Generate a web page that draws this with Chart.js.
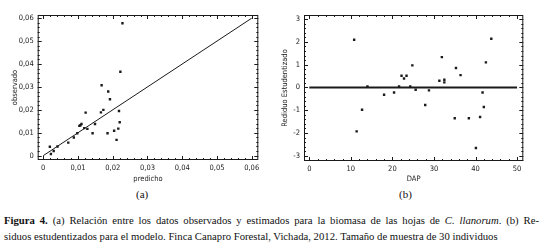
<!DOCTYPE html>
<html>
<head>
<meta charset="utf-8">
<script src="https://cdn.jsdelivr.net/npm/chart.js@4"></script>
<style>
  body { margin: 0; background: #fff; width: 547px; height: 251px; position: relative; overflow: hidden; }
  #wrapA { position: absolute; left: 0; top: 0; width: 270px; height: 185px; }
  #wrapB { position: absolute; left: 270px; top: 0; width: 277px; height: 185px; }
  .sub { position: absolute; top: 188px; font: 11px "Liberation Serif", "Times New Roman", serif; color: #111; }
  .cap { position: absolute; left: 4px; width: 535px; font: 10.7px "Liberation Serif", "Times New Roman", serif; color: #111; white-space: nowrap; }
  #cap1 { top: 214px; text-align: justify; text-align-last: justify; white-space: normal; }
  #cap2 { top: 230px; }
</style>
</head>
<body>
<div id="wrapA"><canvas id="chartA" width="270" height="185"></canvas></div>
<div id="wrapB"><canvas id="chartB" width="277" height="185"></canvas></div>
<div class="sub" style="left:136px">(a)</div>
<div class="sub" style="left:399px">(b)</div>
<div class="cap" id="cap1"><b>Figura 4.</b> (a) Relación entre los datos observados y estimados para la biomasa de las hojas de <i>C. llanorum</i>. (b) Re-</div>
<div class="cap" id="cap2">siduos estudentizados para el modelo. Finca Canapro Forestal, Vichada, 2012. Tamaño de muestra de 30 individuos</div>
<script>
// (a) observado vs predicho
const predicho = [0.0019, 0.0022, 0.0030, 0.0041, 0.0072, 0.0088, 0.0098, 0.0104, 0.0107, 0.0110,
  0.0122, 0.0118, 0.0127, 0.0142, 0.0149, 0.0168, 0.0166, 0.0173, 0.0185, 0.0187,
  0.0192, 0.0204, 0.0211, 0.0216, 0.0218, 0.0220, 0.0222, 0.0228];
const observado = [0.0039, 0.0007, 0.0020, 0.0040, 0.0057, 0.0079, 0.0098, 0.0130, 0.0133, 0.0138,
  0.0188, 0.0120, 0.0117, 0.0098, 0.0138, 0.0307, 0.0189, 0.0200, 0.0098, 0.0280,
  0.0246, 0.0109, 0.0069, 0.0118, 0.0195, 0.0146, 0.0366, 0.0578];
const fitX = [0, 0.06];
const ticksA = [0, 0.01, 0.02, 0.03, 0.04, 0.05, 0.06];

// (b) residuos vs DAP
const dap = [10.8, 11.4, 12.7, 14.0, 18.0, 20.4, 21.6, 22.2, 22.8, 23.4,
  24.3, 24.8, 25.6, 27.9, 28.8, 31.3, 31.9, 32.5, 32.5, 35.0,
  35.3, 36.4, 38.4, 40.1, 41.1, 41.7, 42.0, 42.5, 43.8];
const residuo = [2.09, -1.93, -0.98, 0.04, -0.32, -0.22, 0.04, 0.51, 0.39, 0.51,
  0.04, 0.97, -0.10, -0.77, -0.13, 0.29, 1.33, 0.22, 0.34, -1.35,
  0.85, 0.54, -1.35, -2.66, -1.30, -0.22, -0.86, 1.10, 2.14];
const zeroX = [0, 50];
const ticksBx = [0, 10, 20, 30, 40, 50];
const ticksBy = [-3, -2, -1, 0, 1, 2, 3];

const tickFont = { family: "'Liberation Sans Narrow', 'DejaVu Sans Condensed', sans-serif", size: 7.5 };
const ink = '#1a1a1a';

// frame and inward tick marks on all four sides
const framePlugin = {
  id: 'frame',
  afterDatasetsDraw(chart, args, opts) {
    const { ctx, chartArea: a, scales } = chart;
    ctx.save();
    ctx.strokeStyle = ink;
    ctx.lineWidth = 1;
    ctx.strokeRect(a.left + 0.5, a.top + 0.5, a.right - a.left - 1, a.bottom - a.top - 1);
    const mark = (scale, step, minorN, horiz) => {
      const minor = step / minorN;
      const start = Math.ceil(scale.min / minor) * minor;
      for (let v = start; v <= scale.max + 1e-9; v += minor) {
        const isMajor = Math.abs(v / step - Math.round(v / step)) < 1e-6;
        const len = isMajor ? 4 : 2;
        const p = Math.round(scale.getPixelForValue(v)) + 0.5;
        ctx.beginPath();
        if (horiz) {
          ctx.moveTo(p, a.bottom); ctx.lineTo(p, a.bottom - len);
          ctx.moveTo(p, a.top); ctx.lineTo(p, a.top + len);
        } else {
          ctx.moveTo(a.left, p); ctx.lineTo(a.left + len, p);
          ctx.moveTo(a.right, p); ctx.lineTo(a.right - len, p);
        }
        ctx.stroke();
      }
    };
    mark(scales.x, opts.xStep, 5, true);
    mark(scales.y, opts.yStep, 5, false);
    ctx.restore();
  }
};

const comma = v => String(+v.toFixed(2)).replace('.', ',');

const axis = (min, max, list, title, fmt, fitSize, horiz, titlePad) => ({
  type: 'linear',
  min: min,
  max: max,
  afterBuildTicks: s => { s.ticks = list.map(v => ({ value: v })); },
  afterFit: s => { if (horiz) s.height = fitSize; else s.width = fitSize; },
  grid: { display: false, drawTicks: false },
  border: { display: false },
  ticks: { color: ink, font: tickFont, padding: 4, callback: fmt, maxRotation: 0 },
  title: { display: true, text: title, color: ink, font: tickFont, padding: titlePad }
});

Chart.defaults.animation = false;

new Chart(document.getElementById('chartA'), {
  type: 'scatter',
  data: {
    datasets: [
      {
        data: predicho.map((x, i) => ({ x: x, y: observado[i] })),
        pointStyle: 'rect', pointRadius: 1.7, backgroundColor: ink, borderWidth: 0
      },
      {
        type: 'line',
        data: fitX.map(x => ({ x: x, y: x })),
        borderColor: ink, borderWidth: 1, pointRadius: 0, fill: false
      }
    ]
  },
  options: {
    responsive: false,
    layout: { padding: { top: 15, right: 11.7, left: 0, bottom: 0 } },
    plugins: { legend: { display: false }, tooltip: { enabled: false },
      frame: { xStep: 0.01, yStep: 0.01 } },
    scales: {
      x: axis(-0.0016, 0.0619, ticksA, 'predicho', comma, 25, true, { top: 0, bottom: 1.5 }),
      y: axis(-0.0019, 0.0614, ticksA, 'observado', comma, 37.7, false, { top: 11, bottom: 0 })
    }
  },
  plugins: [framePlugin]
});

new Chart(document.getElementById('chartB'), {
  type: 'scatter',
  data: {
    datasets: [
      {
        data: dap.map((x, i) => ({ x: x, y: residuo[i] })),
        pointStyle: 'rect', pointRadius: 1.7, backgroundColor: ink, borderWidth: 0
      },
      {
        type: 'line',
        data: zeroX.map(x => ({ x: x, y: 0 })),
        borderColor: ink, borderWidth: 2, pointRadius: 0, fill: false
      }
    ]
  },
  options: {
    responsive: false,
    layout: { padding: { top: 15, right: 23.7, left: 0, bottom: 0 } },
    plugins: { legend: { display: false }, tooltip: { enabled: false },
      frame: { xStep: 10, yStep: 1 } },
    scales: {
      x: axis(-1.27, 51.5, ticksBx, 'DAP', v => String(v), 24, true, { top: 0, bottom: 1.5 }),
      y: axis(-3.23, 3.18, ticksBy, 'Rediduo Estudentizado', v => String(v), 34, false, { top: 11, bottom: 0 })
    }
  },
  plugins: [framePlugin]
});
</script>
</body>
</html>
